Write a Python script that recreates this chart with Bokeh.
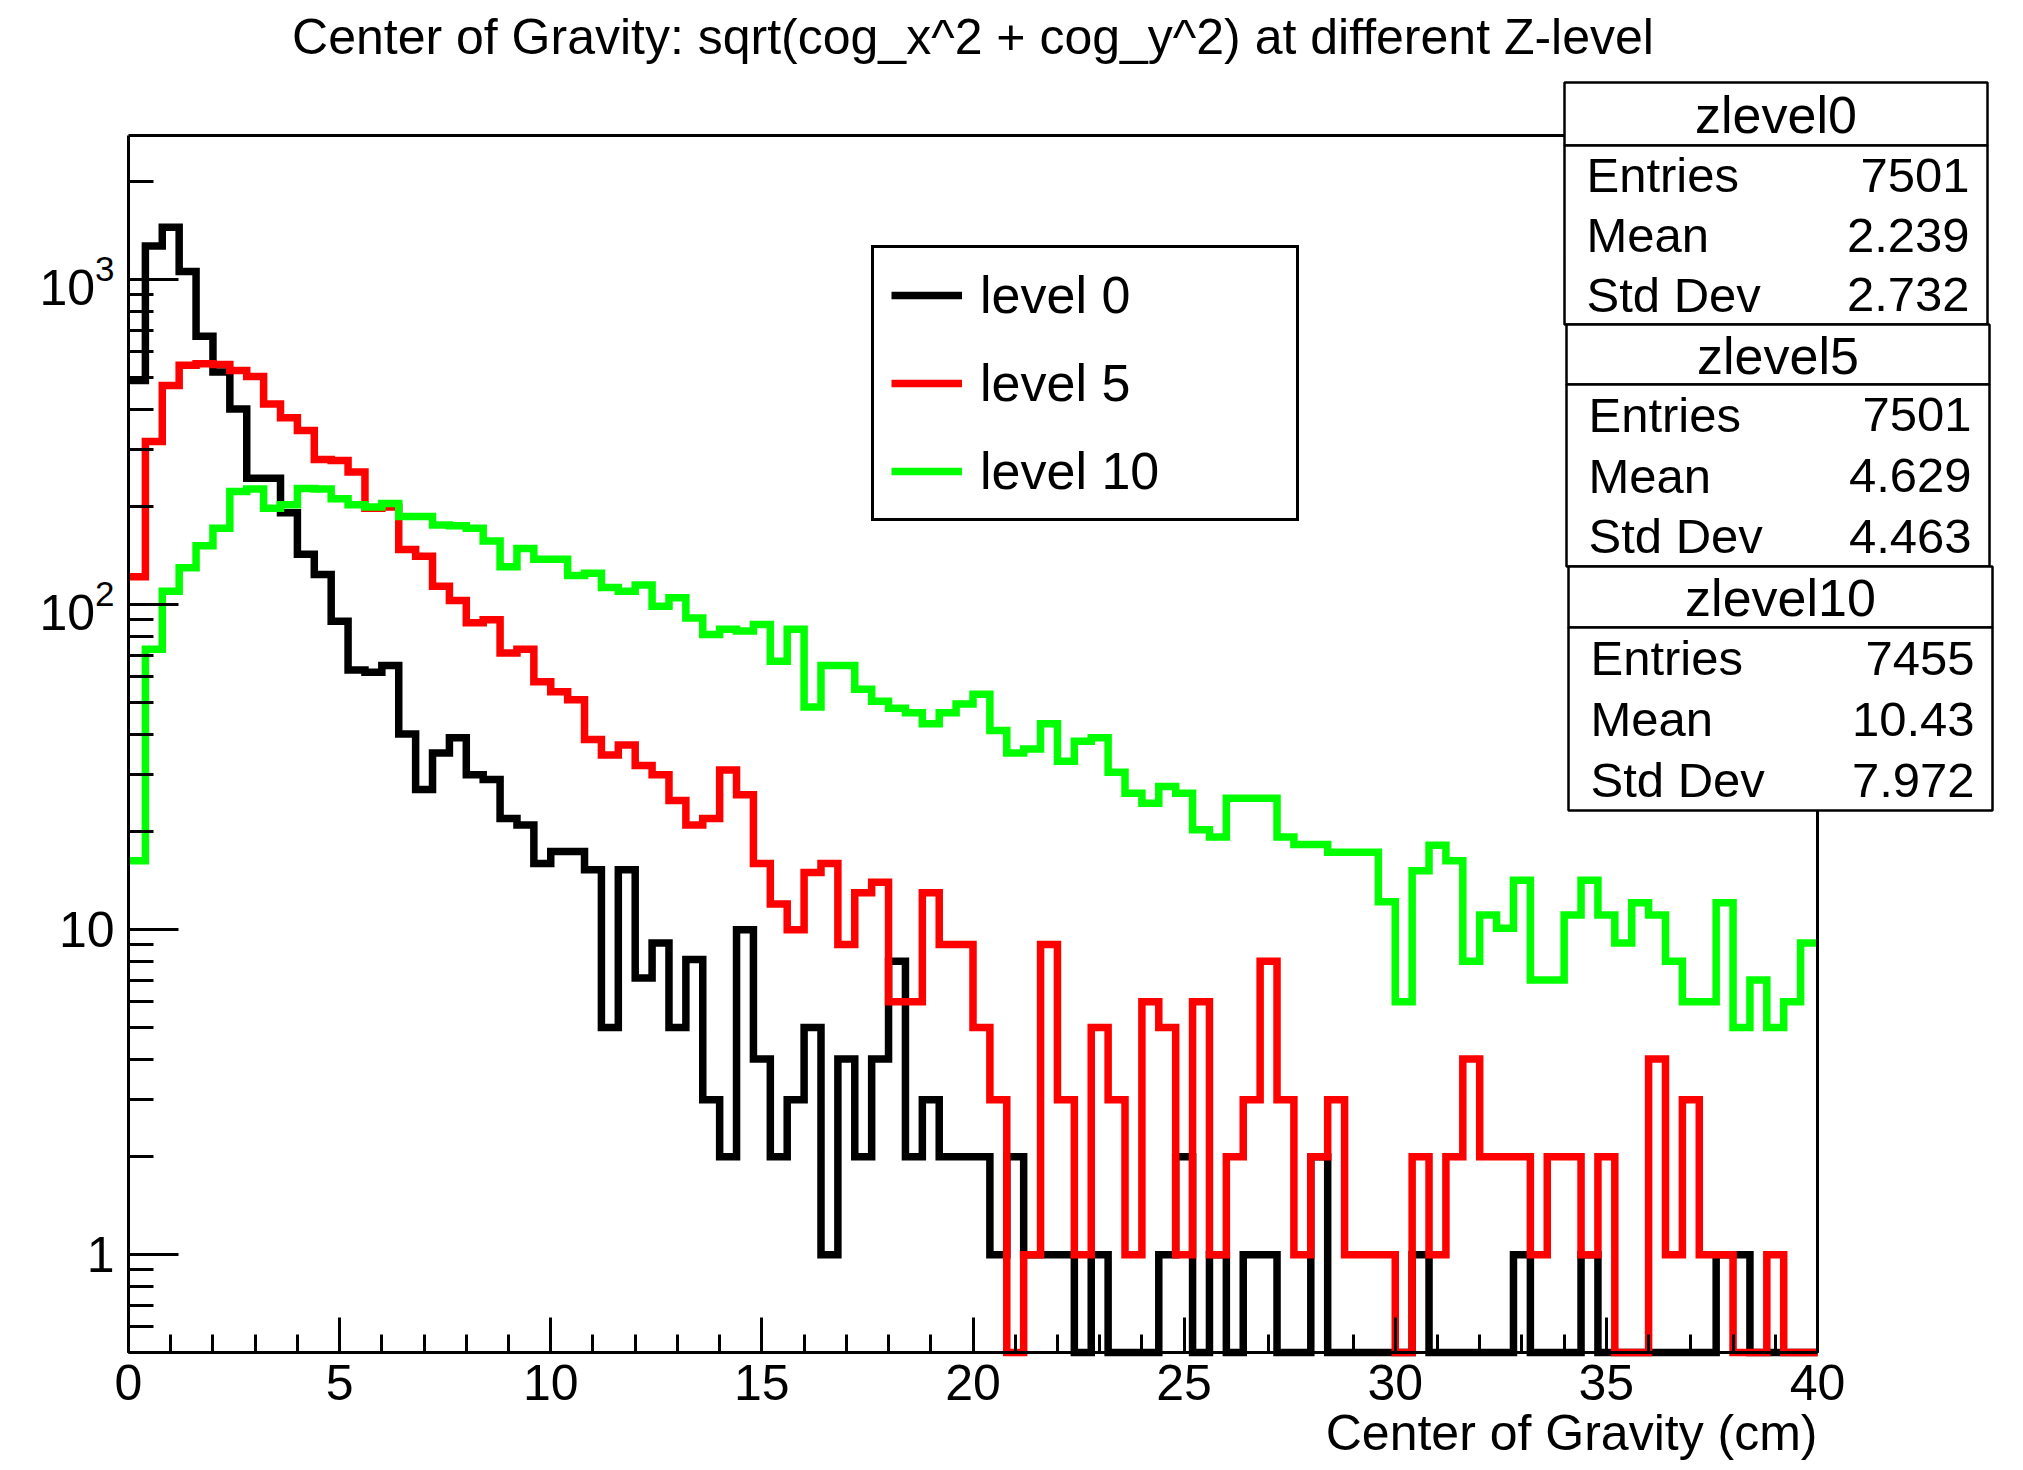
import math
from bokeh.plotting import figure
from bokeh.models import (FixedTicker, LogTickFormatter, Label, BoxAnnotation,
                          Legend, LegendItem, LinearAxis, LogAxis, Range1d)
from bokeh.embed import file_html
from bokeh.resources import INLINE

# ---------------- data ----------------
X_MIN, X_MAX, N_BINS = 0.0, 40.0, 100
Y_MIN, Y_MAX = 0.5, 2780.0

level0 = [
    490, 1270, 1450, 1060, 670, 520, 400, 245, 245, 192,
    143, 124, 89, 63, 62, 65, 40, 27, 35, 39,
    30, 29, 22, 21, 16, 17.4, 17.4, 15.3, 5, 15.3,
    7.1, 9.1, 5, 8.1, 3, 2, 10, 4, 2, 3,
    5, 1, 4, 2, 4, 8, 2, 3, 2, 2,
    2, 1, 2, 1, 1, 1, 0, 1, 0, 0,
    0, 1, 2, 0, 1, 0, 1, 1, 0, 0,
    2, 0, 0, 0, 0, 0, 1, 0, 0, 0,
    0, 0, 1, 0, 0, 0, 1, 0, 0, 0,
    0, 0, 0, 0, 1, 1, 0, 0, 0, 0,
]
level5 = [
    122, 318, 473, 546, 552, 549, 526, 504, 415, 376,
    344, 280, 278, 256, 198, 200, 148, 141, 114, 103,
    88, 90, 71, 73, 58, 54, 51, 38.5, 34.5, 37,
    32, 30, 25, 21, 22, 31, 26, 16, 12, 10,
    15, 16, 9, 13, 14, 6, 6, 13, 9, 9,
    5, 3, 0, 1, 9, 3, 1, 5, 3, 1,
    6, 5, 1, 6, 1, 2, 3, 8, 3, 1,
    2, 3, 1, 1, 1, 0, 2, 1, 2, 4,
    2, 2, 2, 1, 2, 2, 1, 2, 0, 0,
    4, 1, 3, 1, 1, 0, 0, 1, 0, 0,
]
level10 = [
    16.3, 73, 110, 130, 152, 172, 223, 227, 198, 203,
    228, 227, 212, 203, 200, 205, 187, 187, 176, 175,
    172, 157, 131, 149, 138, 138, 123, 125, 113, 110,
    115, 99, 105, 91, 81, 84, 83, 87, 67, 84,
    48.5, 65, 65, 55, 50.5, 48, 46.5, 43, 46.5, 49.5,
    53, 41, 35, 36, 43, 33, 38, 39, 30.5, 26.3,
    24.5, 27.6, 26.3, 20.3, 19.3, 25.4, 25.4, 25.4, 19.3, 18.3,
    18.3, 17.3, 17.3, 17.3, 12.2, 6, 15.2, 18.2, 16.3, 8,
    11.1, 10.1, 14.2, 7, 7, 11.1, 14.2, 11.1, 9.1, 12.1,
    11.1, 8, 6, 6, 12.1, 5, 7, 5, 6, 9.1,
]
series_labels = ["level 0", "level 5", "level 10"]
series_colors = ["#000000", "#ff0000", "#00ff00"]

stat_names = ["zlevel0", "zlevel5", "zlevel10"]
stat_entries = ["7501", "7501", "7455"]
stat_means = ["2.239", "4.629", "10.43"]
stat_stds = ["2.732", "4.463", "7.972"]
stat_rows = ["Entries", "Mean", "Std Dev"]

title_text = "Center of Gravity: sqrt(cog_x^2 + cog_y^2) at different Z-level"
x_title = "Center of Gravity (cm)"
x_major = [0, 5, 10, 15, 20, 25, 30, 35, 40]
x_minor = list(range(0, 41))
y_major = [1, 10, 100, 1000]
y_minor = [0.5, 0.6, 0.7, 0.8, 0.9, 2, 3, 4, 5, 6, 7, 8, 9,
           20, 30, 40, 50, 60, 70, 80, 90, 200, 300, 400, 500, 600, 700, 800, 900, 2000]

# ---------------- layout ----------------
W, H = 2023, 1470
FL, FR, FT, FB = 128, 1817, 135, 1352   # data box on the canvas (px)
FONT = "Liberation Sans"

# the frame fills the whole canvas; the data box sits inside it
ppx = (FR - FL) / (X_MAX - X_MIN)
lspan = (math.log10(Y_MAX) - math.log10(Y_MIN)) / (FB - FT)
xr = Range1d(X_MIN - FL / ppx, X_MAX + (W - FR) / ppx)
yr = Range1d(10 ** (math.log10(Y_MIN) - (H - FB) * lspan), 10 ** (math.log10(Y_MAX) + FT * lspan))

p = figure(width=W, height=H, x_range=xr, y_range=yr, y_axis_type="log", title=None,
           output_backend="svg", toolbar_location=None,
           min_border_left=0, min_border_right=0, min_border_top=0, min_border_bottom=0)
p.xgrid.visible = False
p.ygrid.visible = False
p.outline_line_color = None
p.background_fill_color = "white"
p.border_fill_color = "white"

xa = p.xaxis[0]
xa.fixed_location = Y_MIN
xa.bounds = (X_MIN, X_MAX)
xa.ticker = FixedTicker(ticks=x_major, minor_ticks=x_minor)
xa.major_tick_in, xa.major_tick_out = 35, 0
xa.minor_tick_in, xa.minor_tick_out = 18, 0
xa.axis_line_width = 3
xa.major_tick_line_width = 3
xa.minor_tick_line_width = 3
xa.major_label_text_font = FONT
xa.major_label_text_font_size = "50px"
xa.major_label_text_color = "black"
xa.major_label_standoff = 12

ya = p.yaxis[0]
ya.fixed_location = X_MIN
ya.bounds = (Y_MIN, Y_MAX)
ya.ticker = FixedTicker(ticks=y_major, minor_ticks=y_minor)
ya.formatter = LogTickFormatter(min_exponent=2)
ya.major_tick_in, ya.major_tick_out = 50, 0
ya.minor_tick_in, ya.minor_tick_out = 25, 0
ya.axis_line_width = 3
ya.major_tick_line_width = 3
ya.minor_tick_line_width = 3
ya.major_label_text_font = FONT
ya.major_label_text_font_size = "50px"
ya.major_label_text_color = "black"
ya.major_label_standoff = 14

top_ax = LinearAxis(fixed_location=Y_MAX, bounds=(X_MIN, X_MAX), ticker=FixedTicker(ticks=[]),
                    axis_line_width=3, major_tick_line_color=None, minor_tick_line_color=None,
                    major_label_text_font_size="0px")
right_ax = LogAxis(fixed_location=X_MAX, bounds=(Y_MIN, Y_MAX), ticker=FixedTicker(ticks=[]),
                   axis_line_width=3, major_tick_line_color=None, minor_tick_line_color=None,
                   major_label_text_font_size="0px")
p.add_layout(top_ax, "above")
p.add_layout(right_ax, "right")

bw = (X_MAX - X_MIN) / N_BINS
edges = [X_MIN + i * bw for i in range(N_BINS + 1)]

renderers = []
for vals, col in zip([level0, level5, level10], series_colors):
    ys = [max(v, Y_MIN) for v in vals]
    ys = ys + [ys[-1]]
    r = p.step(x=edges, y=ys, mode="after", line_color=col, line_width=7.5, line_join="miter")
    renderers.append(r)

legend = Legend(items=[LegendItem(label=l, renderers=[r]) for l, r in zip(series_labels, renderers)],
                location=(871, H - 521), margin=0, padding=17, spacing=28,
                glyph_width=71, glyph_height=58, label_height=58, label_width=299,
                label_standoff=18, label_text_font=FONT, label_text_font_size="52px",
                label_text_color="black",
                border_line_color="black", border_line_width=3, border_line_alpha=1.0,
                background_fill_color="white", background_fill_alpha=1.0)
p.add_layout(legend)


def sbox(x1, y1, x2, y2):
    p.add_layout(BoxAnnotation(left=x1, right=x2, top=H - y1, bottom=H - y2,
                               left_units="screen", right_units="screen",
                               top_units="screen", bottom_units="screen",
                               fill_color="white", fill_alpha=1.0,
                               line_color="black", line_width=2.5, line_alpha=1.0))


def slabel(x, y, text, align, size="49px"):
    p.add_layout(Label(x=x, y=H - y, x_units="screen", y_units="screen", text=text,
                       text_align=align, text_baseline="middle", text_font=FONT,
                       text_font_size=size, text_color="black"))


boxes = [  # (left, top, right, bottom, header divider) in canvas px
    (1564, 82, 1987, 324, 145),
    (1566, 324, 1989, 566, 384),
    (1568, 566, 1992, 810, 627),
]
for i, (l, t, r, b, d) in enumerate(boxes):
    sbox(l, t, r, d)
    sbox(l, d, r, b)
    rowh = (b - d) / 3.0
    slabel((l + r) / 2, (t + d) / 2 + 1, stat_names[i], "center", "52px")
    vals = [stat_entries[i], stat_means[i], stat_stds[i]]
    for k in range(3):
        yc = d + rowh * (k + 0.5)
        slabel(l + 22, yc, stat_rows[k], "left")
        slabel(r - 18, yc, vals[k], "right")

p.add_layout(Label(x=(FL + FR) / 2, y=H - 36, x_units="screen", y_units="screen",
                   text=title_text, text_align="center", text_baseline="middle",
                   text_font=FONT, text_font_size="50px", text_color="black"))
p.add_layout(Label(x=FR, y=H - 1432, x_units="screen", y_units="screen",
                   text=x_title, text_align="right", text_baseline="middle",
                   text_font=FONT, text_font_size="50px", text_color="black"))

open("out.html", "w").write(file_html(p, INLINE))
